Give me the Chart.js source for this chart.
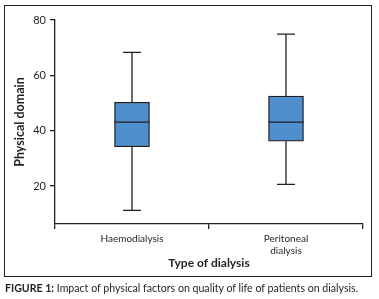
<!DOCTYPE html>
<html>
<head>
<meta charset="utf-8">
<script src="https://cdn.jsdelivr.net/npm/chart.js@4/dist/chart.umd.min.js"></script>
<style>
  html, body { margin: 0; padding: 0; background: #fff; }
  body { width: 379px; height: 299px; position: relative; overflow: hidden; font-family: Lato, "Open Sans", sans-serif; }
  #frame { position: absolute; left: 4px; top: 5px; width: 366px; height: 270px; border: 1.3px solid #231f20; }
  #wrap { position: absolute; left: 0; top: 0; width: 379px; height: 299px; }
  #caption { position: absolute; left: 5px; top: 282px; font-size: 10.6px; color: #231f20; white-space: nowrap; }
  #caption b { font-weight: bold; }
</style>
</head>
<body>
<div id="frame"></div>
<div id="wrap"><canvas id="chart"></canvas></div>
<div id="caption"><b>FIGURE 1:</b> Impact of physical factors on quality of life of patients on dialysis.</div>
<script>
// === データ ===
const categories = [['Haemodialysis'], ['Peritoneal', 'dialysis']];
const whiskerLow = [11.2, 20.6];
const q1 = [34.2, 36.2];
const median = [43.1, 43.1];
const q3 = [50.3, 52.5];
const whiskerHigh = [68.3, 74.9];
const yTicks = [20, 40, 60, 80];

const ink = '#231f20';
const boxFill = '#4f8fcd';

// ひげ・中央値の描画（スケールから座標を取る）
const whiskerPlugin = {
  id: 'whiskers',
  afterDatasetsDraw(chart) {
    const { ctx, scales: { x, y } } = chart;
    const meta = chart.getDatasetMeta(0);
    ctx.save();
    ctx.strokeStyle = ink;
    ctx.lineWidth = 1.3;
    categories.forEach((c, i) => {
      const cx = x.getPixelForValue(i);
      const bar = meta.data[i];
      const half = bar.width / 2;
      const cap = 9;
      const yLo = y.getPixelForValue(whiskerLow[i]);
      const yHi = y.getPixelForValue(whiskerHigh[i]);
      const yQ1 = y.getPixelForValue(q1[i]);
      const yQ3 = y.getPixelForValue(q3[i]);
      const yMed = y.getPixelForValue(median[i]);
      ctx.beginPath();
      ctx.moveTo(cx, yQ3); ctx.lineTo(cx, yHi);
      ctx.moveTo(cx - cap, yHi); ctx.lineTo(cx + cap, yHi);
      ctx.moveTo(cx, yQ1); ctx.lineTo(cx, yLo);
      ctx.moveTo(cx - cap, yLo); ctx.lineTo(cx + cap, yLo);
      ctx.moveTo(cx - half, yMed); ctx.lineTo(cx + half, yMed);
      ctx.stroke();
    });
    ctx.restore();
  }
};

new Chart(document.getElementById('chart'), {
  type: 'bar',
  data: {
    labels: categories,
    datasets: [{
      data: categories.map((c, i) => [q1[i], q3[i]]),
      backgroundColor: boxFill,
      borderColor: ink,
      borderWidth: 1.3,
      borderSkipped: false,
      barThickness: 35
    }]
  },
  options: {
    responsive: true,
    maintainAspectRatio: false,
    animation: false,
    layout: { padding: { top: 20, right: 16, bottom: 25, left: 0 } },
    plugins: { legend: { display: false }, tooltip: { enabled: false } },
    scales: {
      x: {
        grid: { display: true, drawOnChartArea: false, offset: true, color: ink, tickLength: 5, lineWidth: 1.3 },
        border: { color: ink, width: 1.3 },
        ticks: { color: ink, font: { family: 'Lato', size: 10 }, padding: 4, maxRotation: 0 },
        title: { display: true, text: 'Type of dialysis', color: ink, font: { family: 'Lato', size: 12, weight: 'bold' }, padding: { top: 0 } },
        afterFit: (axis) => { axis.height = 50; }
      },
      y: {
        min: 6.3,
        max: 80,
        afterBuildTicks: (axis) => { axis.ticks = yTicks.map(v => ({ value: v })); },
        grid: { display: true, drawOnChartArea: false, color: ink, tickLength: 5, lineWidth: 1.3 },
        border: { color: ink, width: 1.3 },
        ticks: { color: ink, font: { family: 'Lato', size: 11 }, padding: 4 },
        title: { display: true, text: 'Physical domain', color: ink, font: { family: 'Lato', size: 12.5, weight: 'bold' }, padding: { top: 12, bottom: 0 } },
        afterFit: (axis) => { axis.width = 55; }
      }
    }
  },
  plugins: [whiskerPlugin]
});
</script>
</body>
</html>
